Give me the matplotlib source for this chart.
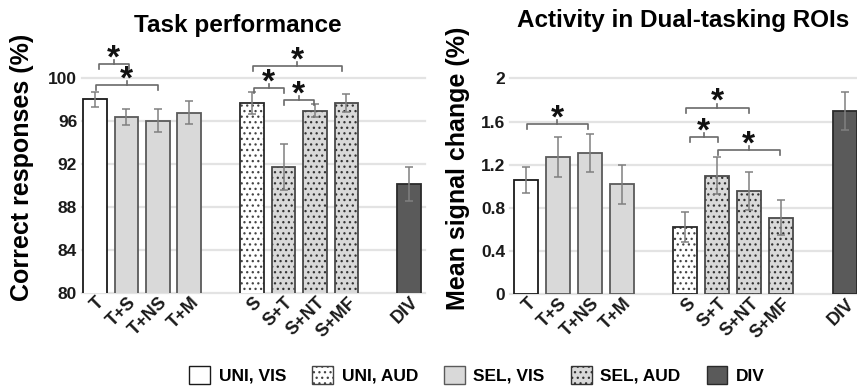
import matplotlib
matplotlib.use('Agg')
import matplotlib.pyplot as plt
import numpy as np
from matplotlib.patches import Patch
from matplotlib import transforms

plt.rcParams['font.family'] = ['Liberation Sans', 'DejaVu Sans']
plt.rcParams['font.weight'] = 'bold'
plt.rcParams['hatch.linewidth'] = 0.9

# ---------------- data ----------------
conditions = ['T', 'T+S', 'T+NS', 'T+M', 'S', 'S+T', 'S+NT', 'S+MF', 'DIV']
groups = ['UNI, VIS', 'SEL, VIS', 'SEL, VIS', 'SEL, VIS',
          'UNI, AUD', 'SEL, AUD', 'SEL, AUD', 'SEL, AUD', 'DIV']
block = [0, 0, 0, 0, 1, 1, 1, 1, 2]

perf = [98.03, 96.40, 96.06, 96.78, 97.68, 91.75, 97.00, 97.68, 90.16]
perf_err = [0.72, 0.78, 1.06, 1.06, 1.00, 2.15, 0.56, 0.82, 1.60]

act = [1.06, 1.27, 1.31, 1.02, 0.62, 1.10, 0.96, 0.71, 1.70]
act_err = [0.12, 0.185, 0.176, 0.18, 0.14, 0.17, 0.177, 0.16, 0.176]

perf_ticks = [80, 84, 88, 92, 96, 100]
act_ticks = [0, 0.4, 0.8, 1.2, 1.6, 2]
act_ticklabels = ['0', '0.4', '0.8', '1.2', '1.6', '2']

legend_labels = ['UNI, VIS', 'UNI, AUD', 'SEL, VIS', 'SEL, AUD', 'DIV']

# significance brackets (x-start, x-end, y) in data coords
perf_sig = [(0.13, 1.08, 101.34), (0.03, 2.0, 99.37), (5.02, 7.85, 101.1),
            (5.06, 6.01, 99.1), (6.01, 6.96, 98.0)]
act_sig = [(0.02, 1.94, 1.58), (5.02, 6.99, 1.729), (5.13, 6.02, 1.456),
           (6.02, 7.96, 1.338)]

styles = {
    'UNI, VIS': dict(fc='white', ec='#1a1a1a', hatch=None, hc=None),
    'UNI, AUD': dict(fc='white', ec='#2a2a2a', hatch='...', hc='#444444'),
    'SEL, VIS': dict(fc='#d9d9d9', ec='#5a5a5a', hatch=None, hc=None),
    'SEL, AUD': dict(fc='#d9d9d9', ec='#4a4a4a', hatch='...', hc='#333333'),
    'DIV': dict(fc='#5a5a5a', ec='#2a2a2a', hatch=None, hc=None),
}

W, H = 857, 387
fig = plt.figure(figsize=(W / 100, H / 100), dpi=100)

x = np.arange(len(conditions)) + np.array(block)


def px_per_unit(ax):
    pos = ax.get_position()
    y0, y1 = ax.get_ylim()
    return pos.height * H / (y1 - y0)


def draw_panel(ax, vals, errs, ticks, ticklabels, ylim, xlim, sig):
    ax.set_xlim(*xlim)
    ax.set_ylim(*ylim)
    for t in ticks:
        ax.axhline(t, color='#e3e3e3', lw=1.6, zorder=0, clip_on=False)
    for xi, v, g in zip(x, vals, groups):
        st = styles[g]
        ax.bar(xi, v, width=0.75, color=st['fc'], edgecolor='none', zorder=2)
        if st['hatch']:
            ax.bar(xi, v, width=0.75, color='none', edgecolor=st['hc'],
                   hatch=st['hatch'], lw=0, zorder=2)
        ax.bar(xi, v, width=0.75, color='none', edgecolor=st['ec'],
               lw=1.3, zorder=3)
    ax.errorbar(x, vals, yerr=errs, fmt='none', ecolor='#808080',
                elinewidth=1.1, capsize=3.2, capthick=1.1, zorder=4)
    for s in ax.spines.values():
        s.set_visible(False)
    ax.set_yticks(ticks)
    ax.set_yticklabels(ticklabels, fontsize=12.5, fontweight='bold',
                       color='#1a1a1a')
    ax.tick_params(axis='y', length=0, pad=3.5)
    ax.set_xticks(x)
    ax.set_xticklabels(conditions, rotation=45, ha='right', va='center',
                       rotation_mode='anchor', fontsize=13, fontweight='bold',
                       color='#1a1a1a')
    ax.tick_params(axis='x', length=0, pad=5)
    off = transforms.ScaledTranslation(7 / 100, 0, fig.dpi_scale_trans)
    for lab in ax.get_xticklabels():
        lab.set_transform(lab.get_transform() + off)
    ppu = px_per_unit(ax)
    dn = 5 / ppu
    up = 4 / ppu
    for (x1, x2, y) in sig:
        xm = (x1 + x2) / 2
        ax.plot([x1, x1, x2, x2], [y - dn, y, y, y - dn], color='#6a6a6a',
                lw=1.2, clip_on=False, zorder=5)
        ax.plot([xm, xm], [y, y + up], color='#6a6a6a', lw=1.2,
                clip_on=False, zorder=5)
        ax.annotate('*', (xm, y), xytext=(0, -2.5), textcoords='offset points',
                    ha='center', va='baseline', fontsize=24, fontweight='bold',
                    color='#111111', annotation_clip=False)


ax1 = fig.add_axes([82 / W, 1 - 293 / H, (425 - 82) / W, (293 - 78.3) / H])
draw_panel(ax1, perf, perf_err, perf_ticks, [str(t) for t in perf_ticks],
           (80, 100), (-0.41, 10.5), perf_sig)

ax2 = fig.add_axes([510 / W, 1 - 294.3 / H, (W - 510) / W, (294.3 - 78.3) / H])
draw_panel(ax2, act, act_err, act_ticks, act_ticklabels,
           (0, 2), (-0.5, 10.38), act_sig)

fig.text(238 / W, 1 - 32 / H, 'Task performance', ha='center', va='baseline',
         fontsize=17.5, fontweight='bold')
fig.text(683 / W, 1 - 27 / H, 'Activity in Dual-tasking ROIs', ha='center',
         va='baseline', fontsize=17.5, fontweight='bold')
fig.text(22 / W, 1 - 167 / H, 'Correct responses (%)', rotation=90,
         ha='center', va='center', fontsize=18, fontweight='bold')
fig.text(458 / W, 1 - 168 / H, 'Mean signal change (%)', rotation=90,
         ha='center', va='center', fontsize=18, fontweight='bold')

handles = []
for lab in legend_labels:
    st = styles[lab]
    handles.append(Patch(facecolor=st['fc'],
                         edgecolor=st['hc'] if st['hatch'] else st['ec'],
                         hatch=st['hatch'], lw=1.0, label=lab))
fig.legend(handles=handles, loc='center', bbox_to_anchor=(477 / W, 1 - 375 / H),
           ncol=5, frameon=False, prop=dict(size=12.5, weight='bold'),
           handlelength=1.2, handleheight=1.3, handletextpad=0.5,
           columnspacing=1.5, borderaxespad=0, borderpad=0)

fig.savefig('out.png', dpi=100)
